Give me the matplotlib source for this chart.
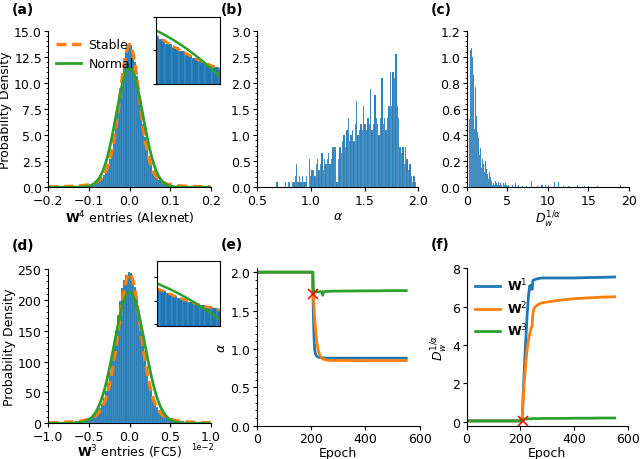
import numpy as np
import matplotlib
matplotlib.use('Agg')
import matplotlib.pyplot as plt
from matplotlib.ticker import AutoMinorLocator

plt.rcParams['font.family'] = ['DejaVu Sans']
plt.rcParams['font.size'] = 9
plt.rcParams['mathtext.fontset'] = 'dejavusans'
plt.rcParams['xtick.major.size'] = 2.8
plt.rcParams['ytick.major.size'] = 2.8
plt.rcParams['xtick.minor.size'] = 1.6
plt.rcParams['ytick.minor.size'] = 1.6
plt.rcParams['xtick.major.pad'] = 1.8
plt.rcParams['ytick.major.pad'] = 1.8
plt.rcParams['axes.labelpad'] = 1.5

BLUE = '#1f77b4'
ORANGE = '#ff7f0e'
GREEN = '#2ca02c'

# ---------------- (a) W4 entries (Alexnet) ----------------
A_HIST_LEFT = -0.15
A_HIST_W = 0.005
A_HIST = [0.07, 0.08, 0.08, 0.10, 0.11, 0.13, 0.14, 0.17, 0.19, 0.22, 0.26, 0.31, 0.37, 0.46, 0.57,
          0.72, 0.93, 1.2, 1.55, 2.05, 2.7, 3.6, 4.7, 6.0, 7.4, 9.0, 10.6, 11.9, 13.0, 13.5,
          13.6, 13.0, 12.0, 10.7, 9.1, 7.5, 6.1, 4.8, 3.7, 2.8, 2.15, 1.6, 1.25, 0.95, 0.74,
          0.58, 0.47, 0.38, 0.32, 0.27, 0.23, 0.20, 0.17, 0.15, 0.13, 0.12, 0.10, 0.09, 0.08, 0.07]
A_X = [-0.20, -0.19, -0.18, -0.17, -0.16, -0.15, -0.14, -0.13, -0.12, -0.11, -0.10,
       -0.095, -0.09, -0.085, -0.08, -0.075, -0.07, -0.065, -0.06, -0.055, -0.05, -0.045, -0.04,
       -0.035, -0.03, -0.025, -0.02, -0.015, -0.01, -0.005, 0.0,
       0.005, 0.01, 0.015, 0.02, 0.025, 0.03, 0.035, 0.04, 0.045, 0.05, 0.055, 0.06, 0.065,
       0.07, 0.075, 0.08, 0.085, 0.09, 0.095,
       0.10, 0.11, 0.12, 0.13, 0.14, 0.15, 0.16, 0.17, 0.18, 0.19, 0.20]
A_STABLE = [0.041, 0.047, 0.054, 0.062, 0.072, 0.085, 0.10, 0.12, 0.15, 0.19, 0.25,
            0.29, 0.35, 0.42, 0.52, 0.65, 0.83, 1.07, 1.40, 1.85, 2.45, 3.2, 4.2, 5.4, 6.8, 8.3, 9.9,
            11.4, 12.6, 13.4, 13.7,
            13.4, 12.6, 11.4, 9.9, 8.3, 6.8, 5.4, 4.2, 3.2, 2.45, 1.85, 1.40, 1.07, 0.83, 0.65, 0.52,
            0.42, 0.35, 0.29,
            0.25, 0.19, 0.15, 0.12, 0.10, 0.085, 0.072, 0.062, 0.054, 0.047, 0.041]
A_NORMAL = [0, 0, 0, 0, 0, 0, 0, 0.005, 0.015, 0.04, 0.12,
            0.18, 0.28, 0.41, 0.60, 0.86, 1.20, 1.64, 2.18, 2.84, 3.62, 4.50, 5.47, 6.50, 7.54, 8.56,
            9.49, 10.28, 10.89, 11.27, 11.4,
            11.27, 10.89, 10.28, 9.49, 8.56, 7.54, 6.50, 5.47, 4.50, 3.62, 2.84, 2.18, 1.64, 1.20,
            0.86, 0.60, 0.41, 0.28, 0.18,
            0.12, 0.04, 0.015, 0.005, 0, 0, 0, 0, 0, 0, 0]

# ---------------- (b) alpha histogram ----------------
B_BIN_LEFT = 0.68
B_BIN_W = 0.013
B_HIST = [0.11, 0, 0, 0, 0, 0, 0.11, 0, 0.11, 0.11,
          0, 0.11, 0.11, 0.22, 0.44, 0.11, 0.22, 0.11, 0.22, 0.11,
          0.11, 0.22, 0, 0.55, 0.22, 0.33, 0.33, 0.22, 0.44, 0.55,
          0.33, 0.44, 0.66, 0.33, 0.55, 0.44, 0.55, 0.66, 0.44, 0.55,
          0.77, 0.77, 0.77, 0.11, 0.55, 0.77, 0.66, 0.88, 1.0, 0.77,
          1.1, 1.33, 0.88, 1.0, 1.1, 0.88, 1.21, 1.66, 1.0, 1.1,
          1.21, 1.1, 1.55, 1.21, 1.1, 1.33, 1.21, 1.88, 1.1, 1.21,
          1.77, 1.33, 1.21, 1.0, 1.33, 2.1, 1.21, 1.33, 1.1, 1.33,
          1.55, 2.21, 1.55, 2.21, 2.1, 2.55, 1.55, 1.33, 0.77, 0.66,
          0.77, 0.44, 0.77, 0.55, 0.33, 0.44, 0.22, 0.11, 0.22, 0.11]

# ---------------- (c) D_w^{1/alpha} histogram ----------------
C_BIN_LEFT = 0.2
C_BIN_W = 0.125
C_HIST = [0.52, 1.05, 1.07, 1.0, 0.86, 0.45, 0.77, 0.55, 0.42, 0.38,
          0.25, 0.30, 0.15, 0.22, 0.18, 0.12, 0.20, 0.14, 0.10, 0.06,
          0.12, 0.08, 0.05, 0.02, 0.03, 0.02, 0.05, 0.03, 0.02, 0.04,
          0.02, 0.03, 0.02, 0.0, 0.03, 0.02, 0.03, 0.02, 0.01, 0.02, 0.0]
C_TAIL_X = [5.5, 5.9, 6.3, 6.8, 7.3, 7.9, 8.6, 9.2, 9.6, 10.0, 10.7, 11.2, 11.9, 12.5, 13.6,
            14.5, 15.0, 16.0, 18.9]
C_TAIL_H = [0.02, 0.03, 0.02, 0.01, 0.01, 0.05, 0.01, 0.02, 0.02, 0.02, 0.04, 0.04, 0.01, 0.01,
            0.02, 0.01, 0.01, 0.01, 0.02]

# ---------------- (d) W3 entries (FC5), x in units of 1e-2 ----------------
D_HIST_LEFT = -0.75
D_HIST_W = 0.025
D_HIST = [2.2, 2.6, 2.8, 3.1, 3.4, 3.9, 4.5, 5.2, 6.1, 7.0, 8.5, 10.2, 12.5, 15.5, 19.8,
          25.5, 32, 41, 53, 66, 84, 104, 126, 150, 175, 199, 219, 233, 241, 246,
          244, 235, 221, 201, 178, 153, 129, 107, 87, 69, 55, 43, 34, 26.5, 21,
          16.5, 13.2, 10.8, 9.0, 7.5, 6.4, 5.5, 4.8, 4.2, 3.7, 3.3, 3.0, 2.7, 2.5, 2.3]
D_X = [-1.0, -0.9, -0.8, -0.7, -0.65, -0.6, -0.55,
       -0.5, -0.475, -0.45, -0.425, -0.4, -0.375, -0.35, -0.325, -0.3, -0.275, -0.25, -0.225,
       -0.2, -0.175, -0.15, -0.125, -0.1, -0.075, -0.05, -0.025, 0.0,
       0.025, 0.05, 0.075, 0.1, 0.125, 0.15, 0.175, 0.2, 0.225, 0.25, 0.275, 0.3, 0.325, 0.35,
       0.375, 0.4, 0.425, 0.45, 0.475, 0.5,
       0.55, 0.6, 0.65, 0.7, 0.8, 0.9, 1.0]
D_STABLE = [1.0, 1.3, 1.8, 2.5, 2.8, 3.7, 5.0,
            6.6, 8.0, 9.6, 11.6, 14.2, 18, 23, 29, 37, 47, 60, 76, 95, 117, 140, 164, 188, 210,
            227, 238.6, 243,
            238.6, 227, 210, 188, 164, 140, 117, 95, 76, 60, 47, 37, 29, 23, 18, 14.2, 11.6, 9.6,
            8.0, 6.6,
            5.0, 3.7, 2.8, 2.5, 1.8, 1.3, 1.0]
D_NORMAL = [0, 0, 0, 0.2, 0.5, 1.3, 2.9,
            6.0, 8.5, 11.9, 16.2, 21.8, 28.7, 37.2, 47.3, 59.0, 72.5, 87.4, 103.5, 120.4, 137.7,
            154.6, 170.5, 184.7, 196.6, 205.5, 211.1, 213,
            211.1, 205.5, 196.6, 184.7, 170.5, 154.6, 137.7, 120.4, 103.5, 87.4, 72.5, 59.0, 47.3,
            37.2, 28.7, 21.8, 16.2, 11.9, 8.5, 6.0,
            2.9, 1.3, 0.5, 0.2, 0, 0, 0]
D_OFFSET_LABEL = '1e\u22122'

# ---------------- (e), (f) training dynamics ----------------
EPOCH = [0, 100, 200, 205, 207, 209, 211, 213, 216, 220, 225, 230, 235, 238, 240, 243, 246,
         250, 255, 260, 270, 280, 300, 350, 400, 450, 500, 550]
ALPHA_W1 = [2.0, 2.0, 2.0, 2.0, 1.7, 1.4, 1.15, 1.0, 0.94, 0.91, 0.895, 0.89, 0.887, 0.886,
            0.885, 0.884, 0.883, 0.882, 0.881, 0.88, 0.88, 0.88, 0.88, 0.88, 0.88, 0.88, 0.88, 0.88]
ALPHA_W2 = [2.0, 2.0, 2.0, 1.99, 1.78, 1.68, 1.55, 1.42, 1.27, 1.12, 1.0, 0.94, 0.9, 0.885,
            0.878, 0.87, 0.865, 0.862, 0.858, 0.855, 0.852, 0.85, 0.85, 0.849, 0.848, 0.848, 0.848,
            0.848]
ALPHA_W3 = [2.0, 2.0, 2.0, 2.0, 2.0, 1.72, 1.73, 1.74, 1.745, 1.745, 1.745, 1.745, 1.745, 1.745,
            1.745, 1.70, 1.745, 1.748, 1.75, 1.75, 1.752, 1.753, 1.754, 1.755, 1.757, 1.758, 1.76,
            1.76]
DW_W1 = [0.05, 0.05, 0.05, 0.05, 0.3, 1.0, 1.7, 2.3, 3.2, 4.3, 5.6, 6.6, 7.1, 6.95, 7.1, 6.9,
         7.35, 7.4, 7.42, 7.45, 7.48, 7.5, 7.5, 7.5, 7.5, 7.52, 7.53, 7.55]
DW_W2 = [0.05, 0.05, 0.05, 0.05, 0.3, 0.8, 1.3, 1.8, 2.4, 3.1, 3.8, 4.3, 4.6, 4.8, 4.9, 4.95,
         5.6, 5.9, 6.0, 6.05, 6.15, 6.2, 6.25, 6.35, 6.42, 6.46, 6.5, 6.52]
DW_W3 = [0.05, 0.05, 0.05, 0.05, 0.05, 0.08, 0.12, 0.14, 0.15, 0.15, 0.15, 0.16, 0.16, 0.16,
         0.16, 0.16, 0.17, 0.17, 0.17, 0.17, 0.17, 0.18, 0.18, 0.18, 0.19, 0.19, 0.2, 0.2]
TRANSITION_EPOCH = 208
TRANSITION_ALPHA = 1.72
TRANSITION_DW = 0.05


def edges(left, w, n):
    return [left + i * w for i in range(n)]


def style(ax, minor_y=True):
    ax.spines['top'].set_visible(False)
    ax.spines['right'].set_visible(False)
    if minor_y:
        ax.yaxis.set_minor_locator(AutoMinorLocator(5))


fig = plt.figure(figsize=(6.4, 4.6), dpi=100)

# ---- (a)
axa = fig.add_axes([0.0755, 0.5907, 0.2538, 0.3404])
axa.bar(edges(A_HIST_LEFT, A_HIST_W, len(A_HIST)), A_HIST, width=A_HIST_W, align='edge',
        color=BLUE, edgecolor='white', linewidth=0.1)
axa.plot(A_X, A_STABLE, color=ORANGE, ls='--', lw=2.4, dashes=(3, 1.6), label='Stable')
axa.plot(A_X, A_NORMAL, color=GREEN, lw=2.0, label='Normal')
axa.set_xlim(-0.2, 0.2)
axa.set_ylim(0, 15)
axa.set_xticks([-0.2, -0.1, 0.0, 0.1, 0.2])
axa.set_yticks([0, 2.5, 5, 7.5, 10, 12.5, 15])
axa.set_ylabel('Probability Density')
axa.set_xlabel(r'$\mathbf{W}^4$ entries (Alexnet)')
axa.legend(loc='upper left', frameon=False, handlelength=2.0, handletextpad=0.6,
           borderaxespad=0.2, bbox_to_anchor=(0.0, 1.0))
style(axa)

ins_a = fig.add_axes([0.2438, 0.8152, 0.1, 0.1457])
ins_a.bar(edges(A_HIST_LEFT, A_HIST_W, len(A_HIST)), A_HIST, width=A_HIST_W, align='edge',
          color=BLUE, edgecolor='white', linewidth=0.1)
ins_a.plot(A_X, A_STABLE, color=ORANGE, ls='--', lw=2.0, dashes=(3, 1.6))
ins_a.plot(A_X, A_NORMAL, color=GREEN, lw=1.8)
ins_a.set_yscale('log')
ins_a.set_xlim(0.048, 0.096)
ins_a.set_ylim(0.1, 10)
ins_a.set_xticks([])
ins_a.set_yticks([0.1, 1, 10])
ins_a.set_yticklabels([])
ins_a.yaxis.set_minor_locator(plt.NullLocator())
ins_a.tick_params(length=2)

# ---- (b)
axb = fig.add_axes([0.4016, 0.5907, 0.252, 0.3404])
axb.bar(edges(B_BIN_LEFT, B_BIN_W, len(B_HIST)), B_HIST, width=B_BIN_W, align='edge',
        color=BLUE, edgecolor='white', linewidth=0.1)
axb.set_xlim(0.5, 2.0)
axb.set_ylim(0, 3.0)
axb.set_xticks([0.5, 1.0, 1.5, 2.0])
axb.set_yticks([0, 0.5, 1.0, 1.5, 2.0, 2.5, 3.0])
axb.set_xlabel(r'$\alpha$')
style(axb)

# ---- (c)
axc = fig.add_axes([0.7297, 0.5907, 0.253, 0.3404])
axc.bar(edges(C_BIN_LEFT, C_BIN_W, len(C_HIST)), C_HIST, width=C_BIN_W, align='edge',
        color=BLUE, edgecolor='#9cc6e8', linewidth=0.15)
axc.bar(C_TAIL_X, C_TAIL_H, width=C_BIN_W, align='edge', color=BLUE, edgecolor='#9cc6e8',
        linewidth=0.15)
axc.set_xlim(0, 20)
axc.set_ylim(0, 1.2)
axc.set_xticks([0, 5, 10, 15, 20])
axc.set_yticks([0, 0.2, 0.4, 0.6, 0.8, 1.0, 1.2])
axc.set_xlabel(r'$D_w^{1/\alpha}$')
style(axc)

# ---- (d)
d_left = edges(D_HIST_LEFT, D_HIST_W, len(D_HIST))
axd = fig.add_axes([0.0755, 0.0775, 0.2538, 0.3354])
axd.bar(d_left, D_HIST, width=D_HIST_W, align='edge', color=BLUE, edgecolor='white',
        linewidth=0.1)
axd.plot(D_X, D_STABLE, color=ORANGE, ls='--', lw=2.4, dashes=(3, 1.6))
axd.plot(D_X, D_NORMAL, color=GREEN, lw=2.0)
axd.set_xlim(-1.0, 1.0)
axd.set_ylim(0, 250)
axd.set_xticks([-1.0, -0.5, 0.0, 0.5, 1.0])
axd.set_yticks([0, 50, 100, 150, 200, 250])
axd.tick_params(axis='x', pad=2.0)
axd.tick_params(axis='y', pad=2.4)
axd.text(0.88, -0.15, D_OFFSET_LABEL, transform=axd.transAxes, fontsize=6, ha='left',
         va='center')
axd.set_ylabel('Probability Density', labelpad=1.0)
axd.set_xlabel(r'$\mathbf{W}^3$ entries (FC5)', labelpad=-0.6)
style(axd)

ins_d = fig.add_axes([0.2453, 0.2891, 0.0984, 0.1413])
ins_d.bar(d_left, D_HIST, width=D_HIST_W, align='edge', color=BLUE, edgecolor='white',
          linewidth=0.1)
ins_d.plot(D_X, D_STABLE, color=ORANGE, ls='--', lw=2.0, dashes=(3, 1.6))
ins_d.plot(D_X, D_NORMAL, color=GREEN, lw=1.8)
ins_d.set_yscale('log')
ins_d.set_xlim(0.31, 0.59)
ins_d.set_ylim(0.83, 495)
ins_d.set_xticks([])
ins_d.set_yticks([1, 10, 100])
ins_d.set_yticklabels([])
ins_d.yaxis.set_minor_locator(plt.NullLocator())
ins_d.tick_params(length=2)

# ---- (e)
axe = fig.add_axes([0.401, 0.0724, 0.255, 0.342])
axe.plot(EPOCH, ALPHA_W1, color=BLUE, lw=2.0)
axe.plot(EPOCH, ALPHA_W2, color=ORANGE, lw=2.0)
axe.plot(EPOCH, ALPHA_W3, color=GREEN, lw=2.0)
axe.plot([TRANSITION_EPOCH], [TRANSITION_ALPHA], 'x', color='red', ms=7, mew=1.1)
axe.set_xlim(0, 600)
axe.set_ylim(0, 2.05)
axe.set_xticks([0, 200, 400, 600])
axe.set_yticks([0, 0.5, 1.0, 1.5, 2.0])
axe.set_xlabel('Epoch', labelpad=0.5)
axe.set_ylabel(r'$\alpha$')
style(axe)

# ---- (f)
axf = fig.add_axes([0.729, 0.0724, 0.2525, 0.342])
axf.plot(EPOCH, DW_W1, color=BLUE, lw=2.0, label=r'$\mathbf{W}^1$')
axf.plot(EPOCH, DW_W2, color=ORANGE, lw=2.0, label=r'$\mathbf{W}^2$')
axf.plot(EPOCH, DW_W3, color=GREEN, lw=2.0, label=r'$\mathbf{W}^3$')
axf.plot([TRANSITION_EPOCH], [TRANSITION_DW], 'x', color='red', ms=7, mew=1.1)
axf.set_xlim(0, 600)
axf.set_ylim(-0.2, 8)
axf.set_xticks([0, 200, 400, 600])
axf.set_yticks([0, 2, 4, 6, 8])
axf.set_xlabel('Epoch', labelpad=0.5)
axf.set_ylabel(r'$D_w^{1/\alpha}$')
axf.legend(loc='upper left', frameon=False, handlelength=2.0, handletextpad=0.5,
           borderaxespad=0.3, labelspacing=0.45)
style(axf, minor_y=False)

# panel labels
for lab, x, y in [('(a)', 0.019, 0.978), ('(b)', 0.345, 0.978), ('(c)', 0.673, 0.978),
                  ('(d)', 0.019, 0.465), ('(e)', 0.345, 0.468), ('(f)', 0.673, 0.468)]:
    fig.text(x, y, lab, fontsize=10, fontweight='bold', ha='left', va='center')

fig.savefig('out.png', dpi=100)
